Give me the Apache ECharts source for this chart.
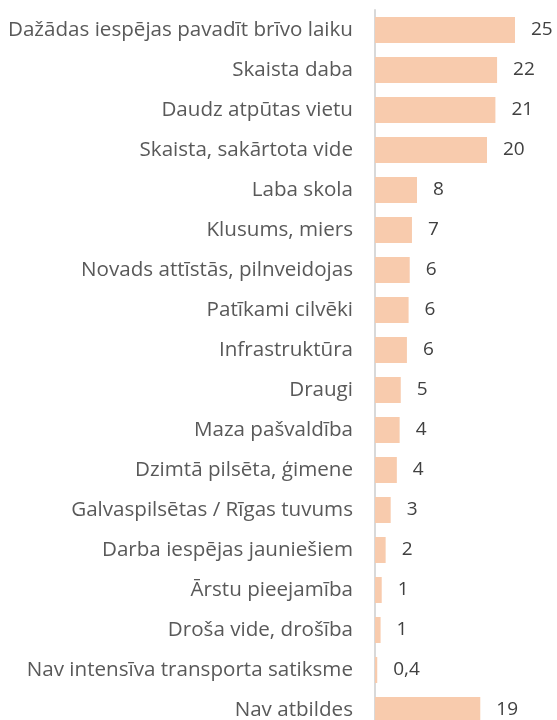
<!DOCTYPE html>
<html>
<head>
<meta charset="utf-8">
<script src="https://cdn.jsdelivr.net/npm/echarts@6/dist/echarts.min.js"></script>
<style>
  html, body { margin: 0; padding: 0; background: #fff; }
  #chart { width: 557px; height: 720px; }
</style>
</head>
<body>
<div id="chart"></div>
<script>
// kategorijas no augšas uz leju
var categories = [
  'Dažādas iespējas pavadīt brīvo laiku',
  'Skaista daba',
  'Daudz atpūtas vietu',
  'Skaista, sakārtota vide',
  'Laba skola',
  'Klusums, miers',
  'Novads attīstās, pilnveidojas',
  'Patīkami cilvēki',
  'Infrastruktūra',
  'Draugi',
  'Maza pašvaldība',
  'Dzimtā pilsēta, ģimene',
  'Galvaspilsētas / Rīgas tuvums',
  'Darba iespējas jauniešiem',
  'Ārstu pieejamība',
  'Droša vide, drošība',
  'Nav intensīva transporta satiksme',
  'Nav atbildes'
];
// stabiņu garums (nolasīts no attēla)
var values = [25.0, 21.8, 21.5, 20.0, 7.5, 6.6, 6.2, 6.0, 5.7, 4.6, 4.4, 3.9, 2.8, 1.9, 1.2, 1.0, 0.4, 18.8];
// uzrakstītās vērtības
var valueLabels = ['25', '22', '21', '20', '8', '7', '6', '6', '6', '5', '4', '4', '3', '2', '1', '1', '0,4', '19'];

var myChart = echarts.init(document.getElementById('chart'));
var font = '"Open Sans", sans-serif';

var options = {
  animation: false,
  grid: {
    left: 375,
    right: 14,
    top: 10,
    height: 720,
    outerBoundsMode: 'none'
  },
  xAxis: {
    type: 'value',
    min: 0,
    max: 30,
    show: false
  },
  yAxis: {
    type: 'category',
    inverse: true,
    data: categories,
    axisLine: { show: true, lineStyle: { color: '#D9D9D9', width: 2 } },
    axisTick: { show: false },
    axisLabel: {
      color: '#595959',
      fontSize: 20.6,
      fontFamily: font,
      margin: 22
    }
  },
  series: [
    {
      type: 'bar',
      data: values,
      barCategoryGap: '35%',
      itemStyle: { color: '#F8CBAD' },
      label: {
        show: true,
        position: 'right',
        distance: 16,
        color: '#404040',
        fontSize: 19,
        fontFamily: font,
        formatter: function (p) { return valueLabels[p.dataIndex]; }
      }
    }
  ]
};
myChart.setOption(options);
</script>
</body>
</html>
